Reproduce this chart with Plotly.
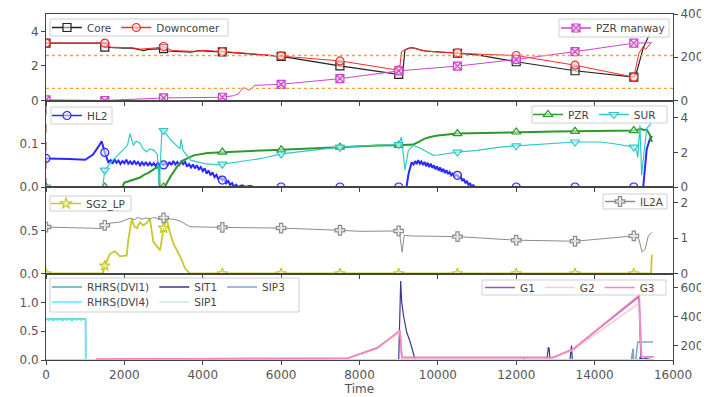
import plotly.graph_objects as go
from plotly.subplots import make_subplots

# ---------------- data ----------------
marker_times = [0, 1500, 3000, 4500, 6000, 7500, 9000, 10500, 12000, 13500, 15000]

# Panel 1 (left: Core, Downcomer; right: PZR manway)
core_t = [0, 1480, 1500, 1600, 1800, 2000, 2200, 2400, 2500, 2600, 2800, 3000, 3100, 3300, 3500,
          3700, 3900, 4100, 4300, 4500, 5000, 5500, 6000, 7500, 9000, 9100, 9160, 9250, 9330, 9450,
          9550, 9700, 9850, 10000, 10200, 10500, 11000, 12000, 13500, 15000, 15080, 15170, 15240,
          15370, 15460]
core_v = [3.32, 3.32, 3.08, 3.06, 3.04, 3.02, 3.03, 2.92, 2.88, 2.95, 2.97, 3.0, 2.86, 2.84, 2.82,
          2.80, 2.88, 2.83, 2.82, 2.81, 2.72, 2.63, 2.55, 2.0, 1.51, 1.55, 2.92, 3.02, 3.06, 3.0,
          2.92, 2.85, 2.82, 2.81, 2.78, 2.73, 2.64, 2.24, 1.72, 1.35, 1.7, 2.55, 3.04, 3.69, 4.16]
dc_t = [0, 1500, 1630, 1800, 2000, 2200, 2400, 2600, 2800, 3000, 3200, 3400, 3600, 3800, 4000,
        4200, 4500, 5000, 5500, 6000, 7500, 9000, 9030, 9070, 9160, 9330, 9450, 9550, 9700, 9850,
        10000, 10200, 10500, 11000, 12000, 13500, 15000, 15130, 15240, 15300, 15460]
dc_v = [3.32, 3.32, 3.08, 3.07, 3.06, 3.05, 2.97, 3.0, 3.04, 3.12, 2.9, 2.87, 2.86, 2.84, 2.9,
        2.86, 2.83, 2.75, 2.66, 2.58, 2.29, 1.75, 1.94, 2.82, 2.92, 3.06, 3.0, 2.92, 2.86, 2.83,
        2.81, 2.78, 2.76, 2.68, 2.6, 2.04, 1.35, 2.73, 3.12, 2.95, 3.4]
pm_t = [0, 1500, 3000, 4500, 4780, 4900, 5030, 5100, 5200, 5330, 6000, 7500, 9000, 10500, 12000,
        13500, 15000, 15420]
pm_v = [3, 0, 12, 15, 22, 30, 59, 55, 48, 70, 75, 101, 137, 159, 190, 226, 265, 267]
ref_levels = [2.6, 0.7]

# Panel 2 (left: HL2; right: PZR, SUR)
hl_t = [0, 300, 600, 1000, 1200, 1350, 1420, 1500, 1590,
        1650, 1700, 1750, 1800, 1850, 1900, 1950, 2000, 2050, 2100, 2150, 2200, 2250, 2300, 2350,
        2400, 2450, 2500, 2550, 2600, 2650, 2700, 2750, 2800, 2850, 2900, 2950, 3000, 3050, 3100,
        3150, 3200, 3250, 3300, 3350, 3400, 3450, 3500, 3550, 3600, 3650, 3700, 3750, 3800, 3850,
        3900, 3950, 4000, 4050, 4100, 4150, 4200, 4250, 4300, 4350, 4400, 4450, 4500, 4550, 4600,
        4650, 4700, 4750, 4800, 4850, 4900, 5000, 5100, 5200, 5300, 6000, 7500, 9000, 9200, 9250,
        9330, 9380, 9420, 9460, 9500, 9540, 9580, 9620, 9660, 9700, 9740, 9780, 9820, 9860, 9900,
        9940, 9980, 10020, 10060, 10100, 10140, 10180, 10220, 10260, 10300, 10340, 10380, 10420,
        10460, 10500, 10540, 10580, 10620, 10660, 10700, 10740, 10780, 10820, 10860, 10900, 10950,
        12000, 13500, 15000, 15240, 15330, 15400, 15460]
hl_v = [0.066, 0.066, 0.065, 0.063, 0.075, 0.095, 0.106, 0.080, 0.057,
        0.062, 0.054, 0.064, 0.056, 0.061, 0.053, 0.060, 0.055, 0.063, 0.054, 0.059, 0.052, 0.061,
        0.053, 0.058, 0.050, 0.057, 0.051, 0.058, 0.049, 0.056, 0.050, 0.055, 0.048, 0.056, 0.049,
        0.055, 0.051, 0.056, 0.049, 0.058, 0.051, 0.060, 0.052, 0.058, 0.051, 0.059, 0.053, 0.058,
        0.047, 0.053, 0.045, 0.052, 0.043, 0.050, 0.041, 0.046, 0.037, 0.043, 0.031, 0.038, 0.027,
        0.034, 0.023, 0.028, 0.017, 0.023, 0.016, 0.019, 0.009, 0.014, 0.005, 0.009, 0.0, 0.005,
        0.0, 0.004, 0.0, 0.003, 0.0, 0.0, 0.0, 0.0, 0.0, 0.03,
        0.057, 0.052, 0.060, 0.053, 0.062, 0.054, 0.059, 0.051, 0.058, 0.048, 0.056, 0.046, 0.054,
        0.044, 0.050, 0.041, 0.048, 0.038, 0.045, 0.035, 0.042, 0.032, 0.039, 0.030, 0.035, 0.027,
        0.032, 0.023, 0.028, 0.027, 0.021, 0.025, 0.014, 0.019, 0.009, 0.014, 0.004, 0.009, 0.0,
        0.004, 0.0, 0.0, 0.0, 0.0, 0.0, 0.088, 0.108, 0.118]
pzr_t = [0, 1500, 1950, 2000, 2100, 2200, 2300, 2400, 2500, 2600, 2700, 2800, 2880, 2900, 3000,
         3050, 3170, 3340, 3500, 3770, 4120, 4500, 5000, 5500, 6000, 6500, 7000, 7500, 8000, 8500,
         9000, 9200, 9373, 9500, 9650, 9800, 10000, 10500, 11000, 11600, 12000, 12500, 13000, 13500,
         14000, 14500, 15000, 15100, 15170, 15250, 15330, 15413, 15460]
pzr_v = [0, 0, 0, 0.25, 0.33, 0.40, 0.48, 0.55, 0.7, 0.8, 0.95, 1.1, 1.16, 0.0, 0.0,
         0.1, 0.58, 1.16, 1.54, 1.83, 1.97, 2.02, 2.07, 2.11, 2.15, 2.2, 2.25, 2.3, 2.37, 2.4,
         2.41, 2.42, 2.45, 2.6, 2.78, 2.89, 2.98, 3.09, 3.12, 3.14, 3.18, 3.2, 3.21, 3.22,
         3.23, 3.24, 3.26, 3.3, 3.37, 3.3, 3.32, 2.99, 2.6]
sur_t = [0, 1380, 1450, 1500, 1700, 1955, 2080, 2143, 2230, 2300, 2400, 2480, 2570, 2650, 2740,
         2840, 2890, 2960, 3000, 3190, 3360, 3420, 3445, 3500, 3700, 4040, 4380, 4500, 4780, 5500,
         6000, 7500, 8500, 9000, 9070, 9120, 9160, 9245, 9370, 9540, 9885, 10000, 10500, 11000,
         11585, 12000, 13000, 13500, 14150, 14500, 15000, 15070, 15100, 15157, 15200, 15240, 15328,
         15413, 15460]
sur_v = [0, 0, 0.05, 0.97, 1.54, 2.12, 2.41, 3.09, 2.41, 2.65, 2.55, 2.2, 2.02, 2.2, 2.15,
         1.9, 0.1, 3.32, 3.26, 2.7, 2.31, 2.2, 2.75, 2.1, 1.54, 1.35, 1.28, 1.32, 1.42, 1.65,
         1.91, 2.3, 2.42, 2.45, 2.89, 1.54, 0.97, 2.1, 2.41, 2.25, 1.83, 1.85, 2.02, 2.12,
         2.31, 2.38, 2.52, 2.6, 2.6, 2.5, 2.31, 2.1, 1.7, 3.57, 0.68, 1.5, 3.4, 3.57, 4.1]

# Panel 3 (left: SG2_LP; right: IL2A)
sg_t = [0, 1450, 1500, 1630, 1760, 1890, 2060, 2100, 2190, 2250, 2320, 2400, 2480, 2570, 2650,
        2740, 2910, 3000, 3080, 3150, 3250, 3420, 3550, 3670, 4500, 6000, 7500, 9000, 10500, 12000,
        13500, 15000, 15440, 15460]
sg_v = [0, 0, 0.09, 0.23, 0.26, 0.20, 0.21, 0.39, 0.64, 0.55, 0.53, 0.60, 0.56, 0.59, 0.64,
        0.37, 0.27, 0.53, 0.64, 0.5, 0.35, 0.20, 0.06, 0, 0, 0, 0, 0, 0, 0,
        0, 0, 0, 0.22]
il_t = [0, 500, 1000, 1430, 1500, 1630, 1890, 2150, 2250, 2350, 2450, 2550, 2650, 2750, 2850,
        3000, 3100, 3200, 3300, 3420, 3670, 4500, 6000, 7500, 8010, 9000, 9030, 9090, 9140, 9300,
        10500, 12000, 13500, 15000, 15130, 15210, 15290, 15370, 15460]
il_v = [1.31, 1.30, 1.29, 1.27, 1.36, 1.42, 1.45, 1.56, 1.52, 1.58, 1.53, 1.57, 1.54, 1.58, 1.55,
        1.57, 1.55, 1.54, 1.52, 1.48, 1.32, 1.30, 1.28, 1.22, 1.19, 1.20, 1.06, 0.60, 1.08, 1.06,
        1.04, 0.94, 0.91, 1.06, 0.97, 0.60, 0.69, 1.06, 1.16]

# Panel 4 (left: RHRS, SIT, SIP; right: G1-G3)
rh1_t = [0, 1010, 1013, 15500]
rh1_v = [0.71, 0.71, 0.0, 0.0]
rh4_t = [0, 60, 120, 180, 240, 300, 360, 420, 480, 540, 600, 660, 720, 780, 840, 900, 960, 1010,
         1013, 15500]
rh4_v = [0.72, 0.69, 0.72, 0.68, 0.71, 0.69, 0.72, 0.68, 0.71, 0.69, 0.72, 0.68, 0.71, 0.69, 0.72,
         0.69, 0.71, 0.71, 0.0, 0.0]
sit1_t = [0, 9000, 9051, 9077, 9120, 9205, 9290, 9375, 9415, 9450, 12180, 12200, 12220, 12780,
          12800, 12820, 12840, 12860, 13370, 13390, 13410, 13430, 14950, 14970, 14990, 15150, 15160,
          15200, 15210, 15500]
sit1_v = [0, 0, 1.37, 1.01, 0.78, 0.48, 0.32, 0.10, 0.02, 0, 0, 0.03, 0, 0,
          0.18, 0.22, 0.20, 0, 0, 0.22, 0.25, 0, 0, 0.18, 0, 0, 0.05,
          0, 0.04, 0]
sip1_t = [0, 15500]
sip1_v = [0.0, 0.0]
sip3_t = [0, 14960, 14980, 15000, 15050, 15100, 15490]
sip3_v = [0, 0, 0.2, 0, 0, 0.31, 0.31]
g1_t = [1290, 4000, 7700, 8440, 9035, 9080, 12950, 13460, 15070, 15130, 15180, 15500]
g1_v = [105, 110, 113, 183, 300, 118, 118, 177, 527, 540, 125, 120]
g2_t = [1290, 7700, 8440, 9035, 9080, 12950, 13460, 15140, 15200, 15500]
g2_v = [104, 112, 178, 295, 116, 116, 170, 495, 120, 118]
g3_t = [1290, 2000, 4000, 7700, 8440, 9035, 9080, 9200, 12950, 13460, 15140, 15200, 15500]
g3_v = [107, 108, 110, 113, 181, 305, 118, 118, 118, 177, 550, 123, 120]

# ---------------- figure ----------------
FONT = "DejaVu Sans"
AX = "#444444"
TXT = "#555555"

fig = make_subplots(rows=4, cols=1, shared_xaxes=True, vertical_spacing=0,
                    specs=[[{"secondary_y": True}]] * 4)


def pick(t, v):
    d = dict(zip(t, v))
    mt = [m for m in marker_times if m in d]
    return mt, [d[m] for m in mt]


def add_series(name, t, v, color, row, sec, legend, width=1.2, symbol=None, fill=None,
               msize=8):
    fig.add_trace(go.Scatter(x=t, y=v, mode="lines", line=dict(color=color, width=width),
                             showlegend=False, hoverinfo="skip"),
                  row=row, col=1, secondary_y=sec)
    marker = None
    if symbol:
        marker = dict(symbol=symbol, size=msize, color=fill or "rgba(255,255,255,0.6)",
                      line=dict(color=color, width=1.2))
        mt, mv = pick(t, v)
        fig.add_trace(go.Scatter(x=mt, y=mv, mode="markers", marker=marker, showlegend=False,
                                 hoverinfo="skip"), row=row, col=1, secondary_y=sec)
    fig.add_trace(go.Scatter(x=[None], y=[None], name=name,
                             mode="lines+markers" if symbol else "lines",
                             line=dict(color=color, width=1.5),
                             marker=marker, legend=legend, showlegend=True),
                  row=row, col=1, secondary_y=sec)


# Panel 1
add_series("Core", core_t, core_v, "#222222", 1, False, "legend", 1.2, "square",
           "rgba(235,235,235,0.6)")
add_series("Downcomer", dc_t, dc_v, "#ff2a2a", 1, False, "legend", 1.0, "circle",
           "rgba(255,225,225,0.6)")
add_series("PZR manway", pm_t, pm_v, "#cc44cc", 1, True, "legend2", 1.0, "square-x",
           "rgba(245,215,245,0.7)")
for lv in ref_levels:
    fig.add_hline(y=lv, line=dict(color="#ffa030", width=1.3, dash="dot"), row=1, col=1)

# Panel 2
add_series("HL2", hl_t, hl_v, "#2a2aff", 2, False, "legend3", 2.0, "circle",
           "rgba(225,225,255,0.6)")
add_series("PZR", pzr_t, pzr_v, "#2a9a2a", 2, True, "legend4", 2.0, "triangle-up",
           "rgba(220,240,220,0.6)")
add_series("SUR", sur_t, sur_v, "#30c8c8", 2, True, "legend4", 1.2, "triangle-down",
           "rgba(220,250,250,0.6)")
fig.add_vline(x=0, line=dict(color="#8b4a4a", width=1, dash="dash"), row=2, col=1)

# Panel 3
add_series("SG2_LP", sg_t, sg_v, "#c8c82a", 3, False, "legend5", 1.8, "star",
           "rgba(245,245,200,0.7)")
add_series("IL2A", il_t, il_v, "#8c8c8c", 3, True, "legend6", 1.0, "cross",
           "rgba(235,235,235,0.7)")

# Panel 4
add_series("RHRS(DVI1)", rh1_t, rh1_v, "#5aaeaa", 4, False, "legend7", 1.5)
add_series("SIT1", sit1_t, sit1_v, "#3a3a8a", 4, False, "legend7", 1.2)
add_series("SIP3", sip3_t, sip3_v, "#7ea6cc", 4, False, "legend7", 1.5)
add_series("RHRS(DVI4)", rh4_t, rh4_v, "#4ff0f0", 4, False, "legend8", 1.5)
add_series("SIP1", sip1_t, sip1_v, "#cfe6f0", 4, False, "legend8", 1.5)
add_series("G1", g1_t, g1_v, "#a050b0", 4, True, "legend9", 1.5)
add_series("G2", g2_t, g2_v, "#ffc6d6", 4, True, "legend9", 1.5)
add_series("G3", g3_t, g3_v, "#f585c0", 4, True, "legend9", 1.5)

# ---------------- axes ----------------
tickfont = dict(family=FONT, size=12, color=TXT)
fig.update_xaxes(domain=[0, 1], range=[0, 16000], tickvals=list(range(0, 16001, 2000)),
                 ticktext=[str(v) for v in range(0, 16001, 2000)],
                 ticks="outside", ticklen=4, tickcolor=AX,
                 showline=True, linecolor=AX, linewidth=1, mirror=True, showgrid=False,
                 zeroline=False, tickfont=tickfont, automargin=False)
fig.update_xaxes(title=dict(text="Time", font=dict(family=FONT, size=12, color=TXT),
                            standoff=2), row=4, col=1)
common_y = dict(ticks="outside", ticklen=4, tickcolor=AX, showline=True, linecolor=AX,
                linewidth=1, showgrid=False, zeroline=False, tickfont=tickfont, automargin=False,
                ticklabeloverflow="allow")
y_cfg = [
    (1, False, [0, 5], [0, 2, 4], ["0", "2", "4"]),
    (1, True, [0, 400], [0, 200, 400], ["0", "200", "400"]),
    (2, False, [0, 0.2], [0, 0.1], ["0.0", "0.1"]),
    (2, True, [0, 5], [0, 2, 4], ["0", "2", "4"]),
    (3, False, [0, 1.01], [0, 0.5], ["0.0", "0.5"]),
    (3, True, [0, 2.44], [0, 1, 2], ["0", "1", "2"]),
    (4, False, [0, 1.5], [0, 0.5, 1.0], ["0.0", "0.5", "1.0"]),
    (4, True, [100, 700], [200, 400, 600], ["200", "400", "600"]),
]
for row, sec, rng, tv, tt in y_cfg:
    fig.update_yaxes(range=rng, tickvals=tv, ticktext=tt, row=row, col=1, secondary_y=sec,
                     **common_y)


# ---------------- legends ----------------
def px_x(p):
    return (p - 46) / 627.0


def px_y(p):
    return (360 - p) / 346.0


lfont = dict(family=FONT, size=10.5, color="#444444")
nobox = dict(bgcolor="rgba(0,0,0,0)", borderwidth=0, font=lfont, itemwidth=30, tracegroupgap=0,
             xanchor="left", yanchor="middle")

# (legend name, text start px, row centre px, horizontal?)
leg_pos = [
    ("legend", 87, 27.5, True),
    ("legend2", 596, 28, False),
    ("legend3", 87, 115.5, False),
    ("legend4", 568, 114.5, True),
    ("legend5", 86, 203.5, False),
    ("legend6", 640, 201.5, False),
    ("legend7", 87, 287, True),
    ("legend8", 87, 302, True),
    ("legend9", 520, 287.5, True),
]
for name, tx, cy, horiz in leg_pos:
    cfg = dict(x=px_x(tx - 40), y=px_y(cy), **nobox)
    if horiz:
        cfg["orientation"] = "h"
    fig.update_layout({name: cfg})

# legend frames (x0, x1, y0, y1 in px)
frames = [
    (50, 228, 19, 36),
    (559, 669, 19, 37),
    (51, 112, 107, 124),
    (532, 667, 106, 123),
    (50, 131, 196, 211),
    (603, 667, 194, 209),
    (50, 299, 278, 312),
    (482, 666, 280, 295),
]
for x0, x1, y0, y1 in frames:
    fig.add_shape(type="rect", xref="paper", yref="paper", x0=px_x(x0), x1=px_x(x1),
                  y0=px_y(y1), y1=px_y(y0), fillcolor="rgba(255,255,255,0.85)",
                  line=dict(color="#cfcfcf", width=1), layer="above")

# page body has an 8px margin: offset the figure margins so the plot area lands at 46..673 x 14..360
fig.update_layout(
    width=709, height=397,
    margin=dict(l=38, r=44, t=6, b=45, autoexpand=False),
    paper_bgcolor="white", plot_bgcolor="white",
    font=dict(family=FONT, size=12, color=TXT),
)

fig.write_html("out.html")
